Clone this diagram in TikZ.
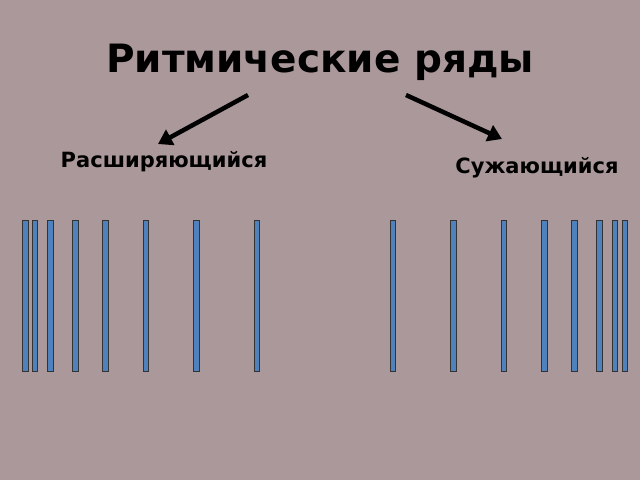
\documentclass[tikz,border=0pt]{standalone}
\usepackage{fontspec}
\setmainfont{DejaVu Sans}
\usetikzlibrary{arrows.meta}
\definecolor{backgr}{RGB}{171,152,155}
\definecolor{barblue}{RGB}{79,129,189}
\tikzset{
  bar/.style={fill=barblue, draw=black!80, line width=0.9pt},
  pointer/.style={line width=4.5pt, -{Triangle[length=14pt, width=17pt]}},
  label/.style={font=\bfseries\fontsize{21}{25}\selectfont}
}

\begin{document}
\begin{tikzpicture}[x=1pt, y=-1pt]
    \fill[backgr] (0,0) rectangle (640,480);
    \useasboundingbox (0,0) rectangle (640,480);

    \node[font=\bfseries\fontsize{39}{46}\selectfont] (title) at (320,62){Ритмические ряды};
    \node[label] (wide) at (164,162){Расширяющийся};
    \node[label] (narrow) at (537,168){Сужающийся};

    \coordinate (lfrom) at (248,95); \coordinate (lto) at (158,144);
    \coordinate (rfrom) at (406,95); \coordinate (rto) at (502,139);
    \draw[pointer] (lfrom) -- (lto);
    \draw[pointer] (rfrom) -- (rto);

    % expanding row
    \foreach \x in {25.2, 35, 50.3, 75.7, 105.7, 146, 196.3, 257}
      \draw[bar] (\x-2.8,220) rectangle (\x+2.8,371);
    % narrowing row
    \foreach \x in {392.8, 453.5, 503.8, 544.2, 574.3, 599.5, 614.8, 624.8}
      \draw[bar] (\x-2.8,220) rectangle (\x+2.8,371);
  \end{tikzpicture}
\end{document}
